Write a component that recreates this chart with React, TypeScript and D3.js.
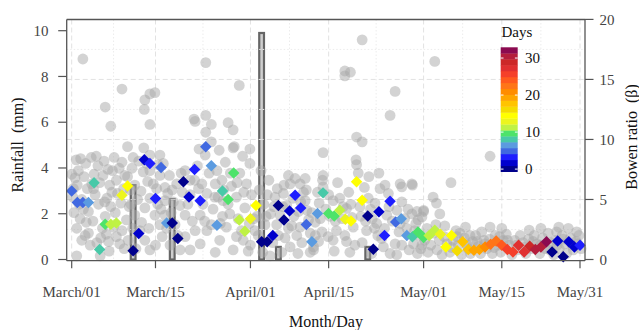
import React, { useEffect } from 'react';
import * as d3 from 'd3';

// ---------- data ----------
const xTickDays = [0, 15, 32, 46, 63, 77, 91];
const xTickLabels = ['March/01', 'March/15', 'April/01', 'April/15', 'May/01', 'May/15', 'May/31'];
const xMinorDays = [7.5, 23.5, 39, 54.5, 70, 84];
const rainTicks = [0, 2, 4, 6, 8, 10];
const bowenTicks = [0, 5, 10, 15, 20];
const bowenMinor = [2.5, 7.5, 12.5, 17.5];
const legendTicks = [0, 10, 20, 30];

const rainDay = [11, 18, 34, 37, 53];
const rainMm = [3.25, 2.64, 9.9, 0.55, 0.55];

const dailyDay = d3.range(0, 92);
const dailyBowen = [
  5.7, 4.75, 4.75, 4.75, 6.4, 0.83, 2.94, 2.94, 3.05, 5.36, 6.13,
  0.72, 2.17, 8.3, 8.0, 5.08, 7.67, 3.05,
  3.05, 1.75, 6.47, 5.2, 7.5, 4.9, 9.4, 7.8, 2.86, 5.7, 5.0, 7.2, 3.3, 2.36, 3.4, 4.5,
  1.47, 1.47, 2.0, 4.5, 3.3, 4.05, 5.36, 4.3, 2.92, 1.47, 3.83, 5.55, 3.83, 3.63, 4.1, 3.36, 3.2, 6.47, 4.94,
  3.63, 0.86, 3.97, 2.0, 4.86, 3.13, 3.4, 2.0, 1.9, 2.3, 1.83, 2.0, 2.44, 2.1, 1.05, 2.0, 0.72, 1.47, 0.83,
  0.78, 0.83, 1.05, 1.28, 1.55, 1.19, 0.83, 0.63, 1.19, 0.63, 1.1, 0.83, 1.05, 1.47,
  0.63, 1.55, 0.22, 1.47, 1.05, 1.19,
];
const dailyDaysSinceRain = [
  5, 5, 5, 6, 8, 8, 10, 11, 12, 13, 14,
  0, 1, 2, 3, 4, 5, 6,
  0, 0, 0, 1, 3, 4, 5, 6, 7, 8, 9, 10, 11, 12, 13, 14,
  0, 0, 1, 0, 0, 1, 3, 4, 5, 6, 7, 8, 9, 10, 11, 13, 14, 15, 15,
  0, 0, 1, 3, 4, 5, 6, 7, 8, 9, 10, 11, 12, 13, 14, 15, 16, 17, 18,
  19, 20, 21, 22, 23, 24, 25, 26, 27, 28, 29, 30, 31, 32,
  0, 1, 0, 1, 2, 3,
];

// half-hourly Bowen ratio observations [day, bowen]
const halfHourlyBowen: [number, number][] = [
  // early March
  [0, 7.1], [0.2, 5.2], [0.9, 2.6], [0.8, 8.3], [1.0, 6.2], [1.6, 8.4], [1.8, 5.0], [2.1, 4.2], [2.2, 6.9], [2.5, 8.0],
  [3.0, 4.0], [3.5, 8.5], [4.0, 7.1], [4.2, 5.4], [3.3, 1.2], [4.5, 1.4], [5.1, 0.3], [0.9, 0.3], [5.5, 2.6], [6.0, 3.6],
  [6.3, 5.1], [6.5, 7.5], [7.0, 4.4], [7.3, 7.4], [7.5, 2.7], [8.0, 1.9], [8.2, 5.5], [8.5, 7.6], [9.0, 2.4], [9.5, 7.0],
  [10.0, 6.9], [10.3, 4.4], [2.0, 16.7], [6.0, 12.7], [7.0, 11.1], [9.0, 14.2], [10.0, 9.4],
  [0.4, 3.9], [1.3, 4.6], [2.8, 5.9], [3.8, 3.2], [5.0, 6.4], [5.8, 8.2], [4.8, 4.6], [6.8, 6.2], [7.8, 3.9], [8.8, 4.7],
  [9.3, 5.9], [3.0, 2.2], [5.2, 1.8], [6.2, 2.1], [1.8, 1.6], [8.6, 1.3], [9.8, 3.3], [2.6, 3.1], [4.4, 8.6], [7.6, 8.5],
  [0.3, 5.9], [3.6, 6.3], [6.7, 0.7], [9.4, 0.9], [1.2, 7.4], [5.6, 7.0],
  [1.5, 3.4], [2.4, 2.0], [3.9, 5.9], [4.7, 7.8], [5.9, 4.8], [7.2, 5.6], [8.0, 6.6], [9.0, 8.1], [0.6, 6.8], [6.6, 1.5],
  // mid March
  [10.5, 5.8], [11.3, 6.2], [12.8, 7.3], [14, 7.4], [15.5, 7.9], [15.8, 7.0], [16.7, 6.0], [16.7, 4.9], [13.1, 4.3], [14, 5.1],
  [14.9, 3.7], [15.8, 2.9], [13.1, 1.6], [14, 0.8], [12.2, 2.4], [11.3, 3.7], [10.1, 1.6], [16.7, 3.7], [18.5, 2.9], [19.4, 4.5],
  [20.3, 3.7], [17.6, 1.2], [19.4, 0.8], [13, 12.5], [13.1, 13.3], [14, 13.8], [14.9, 13.9], [14, 11.25], [14, 8.7], [15.8, 8.7],
  [12.0, 8.2], [11.8, 5.0], [10.8, 7.6], [13.6, 6.5], [12.5, 3.1], [15.2, 5.9], [16.2, 1.9], [17.2, 5.5], [17.8, 3.9], [18.8, 6.3],
  [19.0, 2.0], [18.2, 4.8], [11.5, 0.9], [12.9, 9.3], [16.4, 8.0], [17.5, 7.0], [19.8, 5.6], [15.0, 1.2], [13.8, 2.6], [10.9, 2.6],
  [10.6, 4.6], [12.4, 5.7], [13.4, 8.0], [14.6, 6.3], [16.0, 4.2], [17.0, 2.6], [18.0, 5.8], [19.6, 7.2], [11.0, 8.5], [15.4, 4.6],
  // late March
  [20.3, 7.4], [21.2, 6.6], [24, 16.4], [21.9, 11.7], [22.1, 11.5], [24, 12], [25, 11.25], [24, 10.6], [25, 9.8], [30, 14.5],
  [28, 11.4], [28.9, 10.8], [28.9, 9.3], [29.1, 9.4], [31.9, 9.2], [26.4, 9.1], [23.9, 8.7], [23.3, 6.3], [25.7, 6.3], [24.2, 5.5],
  [27.1, 4.9], [29.5, 5.2], [31.3, 6.3], [30.1, 7.2], [31.9, 8.0], [27.7, 2.7], [26.5, 1.6], [24.2, 2.4], [25.7, 0.6], [28.9, 0.8],
  [30.7, 1.6], [32.8, 2.4], [30.4, 2.4], [28.3, 3.8], [21.2, 5.4], [22.1, 2.4], [21.2, 0.8], [23, 3.7], [20.3, 1.9],
  [22.5, 7.8], [23.5, 4.6], [22.7, 5.9], [25.3, 4.2], [26.0, 7.4], [26.9, 6.6], [27.5, 8.1], [28.6, 6.1], [29.8, 3.4], [31.0, 4.3],
  [32.2, 5.4], [32.6, 3.4], [27.0, 3.6], [25.0, 2.9], [23.0, 1.3], [29.5, 1.9], [31.6, 0.7], [24.6, 7.2], [26.2, 5.2], [30.6, 8.6],
  [21.6, 3.2], [28.0, 4.6], [32.0, 1.2], [22.8, 9.2],
  [20.8, 4.6], [22.0, 6.6], [23.8, 3.2], [25.6, 5.2], [27.2, 5.8], [28.4, 7.2], [29.6, 6.4], [30.8, 5.6], [31.8, 3.0], [26.6, 3.0],
  // early April
  [38.8, 7.0], [40, 6.75], [40.9, 6.3], [39.1, 6.3], [37.9, 5.5], [38.5, 4.5], [37.3, 3.7], [38.8, 2.6], [39.1, 1.05], [36.7, 2.9],
  [40.9, 2.7], [42.1, 4.1], [42.7, 2.2], [43.3, 1.05], [42.7, 0.6], [41.8, 4.9], [44.3, 4.7], [44.9, 6.6], [43.6, 3.1], [44.8, 2.3],
  [33.4, 2.0], [34.6, 2.9], [34.2, 0.6], [35.5, 0.3], [45, 8.9], [41.8, 6.75], [41.5, 5.6], [43.6, 2.0], [41, 4.8], [43.3, 0.8],
  [33.6, 5.8], [34.4, 4.6], [35.6, 3.8], [35.0, 5.4], [36.2, 4.4], [36.0, 1.4], [37.0, 2.0], [39.8, 3.6], [40.3, 2.0], [39.6, 5.1],
  [41.2, 1.4], [42.4, 3.3], [44.2, 1.5], [35.3, 6.6], [36.8, 5.9], [33.9, 7.4], [37.6, 0.6], [40.5, 0.5], [44, 5.6], [38.2, 1.8],
  [33.2, 3.6], [34.8, 3.6], [36.4, 5.2], [37.8, 4.4], [39.4, 2.8], [40.6, 4.0], [42.0, 5.8], [43.0, 3.9], [44.5, 3.4], [38.0, 6.2],
  // late April
  [52, 18.3], [48.9, 15.7], [49.9, 15.6], [48.9, 15.3], [57.9, 14], [57, 12], [51, 10.2], [52, 9.8], [50.9, 8.3], [51, 7.9],
  [51.3, 7.2], [45, 7.0], [45, 6.05], [48, 5.1], [46.8, 4.9], [49.2, 4.25], [55.2, 5.9], [56.1, 6.2], [58.8, 6.3], [60.9, 6.3],
  [56.7, 5.5], [54.3, 4.7], [53.1, 5.1], [58.2, 4.1], [60.9, 3.8], [56.4, 3.7], [54.6, 3.0], [52.8, 2.4], [50.4, 2.7], [48.9, 2.0],
  [47.4, 2.4], [46.8, 1.6], [49.2, 1.5], [50.7, 1.2], [45.9, 1.9], [55.8, 1.05], [57.9, 1.3], [59.1, 1.2], [61.2, 1.3], [55.5, 1.75],
  [57, 0.5], [53.7, 0.5], [62.7, 1.2], [59.1, 6.05], [61, 6.2], [59.1, 4.8], [61.8, 4.0], [60, 2.6], [62, 3.3],
  [46.2, 3.6], [47.6, 6.4], [48.4, 3.4], [50.0, 4.6], [51.8, 3.6], [52.4, 6.0], [53.8, 3.4], [54.8, 2.0], [56.0, 2.6], [57.4, 3.2],
  [58.6, 2.3], [59.6, 3.4], [61.4, 2.4], [62.2, 2.0], [47.0, 0.7], [49.8, 0.6], [52.0, 1.4], [58.2, 0.4], [60.4, 0.8], [61.9, 0.5],
  [53.2, 6.9], [55.0, 7.2], [46.0, 5.4], [49.6, 5.6],
  [45.5, 4.2], [47.2, 3.2], [48.6, 4.4], [50.2, 3.5], [51.6, 4.4], [53.5, 4.2], [54.2, 2.6], [56.8, 4.4], [58.8, 3.0], [60.2, 4.2],
  [61.6, 3.0], [52.6, 3.2],
  // May
  [63, 4.1], [62.7, 3.55], [64.7, 5.2], [65.3, 4.7], [65.9, 3.8], [63, 4.0], [67.9, 6.4], [74.9, 2.7], [81.9, 2.45], [86.8, 2.3],
  [88.9, 2.6], [90.4, 2.3], [73.4, 2.3], [71.3, 2.0], [69.5, 2.2], [74.9, 8.6], [65, 16.5],
  [62.5, 0.9], [63.2, 1.6], [63.8, 0.6], [64.3, 1.2], [64.8, 2.2], [65.4, 0.8], [65.8, 1.6], [66.3, 0.4], [66.7, 1.9], [67.2, 1.3],
  [67.7, 0.6], [68.3, 1.6], [68.8, 2.4], [69.2, 1.2], [69.8, 0.4], [70.3, 1.8], [70.8, 1.2], [71.4, 0.5], [71.8, 1.5], [72.3, 2.0],
  [72.8, 1.1], [73.2, 0.5], [73.8, 1.6], [74.3, 0.9], [74.8, 1.7], [75.3, 0.5], [75.8, 2.0], [76.3, 1.2], [76.8, 0.6], [77.3, 1.6],
  [77.8, 2.1], [78.3, 1.2], [78.8, 0.4], [79.3, 1.6], [79.8, 0.8], [80.3, 2.0], [80.8, 1.4], [81.3, 0.5], [81.8, 1.7], [82.3, 0.9],
  [82.8, 2.0], [83.3, 1.3], [83.8, 0.5], [84.3, 1.8], [84.8, 0.9], [85.3, 2.2], [85.8, 1.4], [86.3, 0.4], [86.6, 1.6], [87.3, 0.9],
  [87.8, 2.0], [88.3, 1.3], [88.6, 0.5], [89.3, 1.8], [89.8, 0.8], [90.3, 1.5], [90.8, 2.0], [91.2, 0.9], [87.2, 2.7], [84.0, 2.6],
  [77.0, 2.6], [70.5, 2.7],
  [63.6, 2.6], [65.2, 2.9], [66.8, 2.8], [68.0, 1.0], [69.0, 1.9], [71.0, 0.9], [72.6, 1.5], [74.0, 1.3], [75.6, 1.0], [76.6, 1.9],
  [78.0, 1.6], [79.6, 1.2], [81.0, 1.0], [82.6, 1.5], [84.0, 1.2], [85.6, 0.8], [86.9, 1.2], [88.0, 1.7], [89.6, 1.2], [90.6, 1.3],
];

const bandColors = [
  '#00008B', '#0000CD', '#1E1EFF', '#4169E1', '#5B9BE0', '#48C9A8', '#4DE36A',
  '#BFF244', '#ECF51E', '#FFFF00', '#F5DC00', '#FFC400', '#FFA500', '#FF8C00',
  '#FF7518', '#FF5A1E', '#F5402A', '#E03030', '#CC2828', '#B41E3C', '#8B0A50',
];
const legendDomain: [number, number] = [-0.7, 32.9];

// ---------- layout ----------
const W = 639;
const H = 330;
const left = 66.7;
const right = 585;
const top = 19.5;
const bottom = 260.7;
const serif = '"Liberation Serif", "Times New Roman", Times, serif';

export default function App() {
  useEffect(() => {
    document.body.style.margin = '0';
  }, []);

  const x = d3.scaleLinear().domain([0, 91]).range([71.7, 580]);
  const yRain = d3.scaleLinear().domain([0, 10]).range([259.5, 30.7]);
  const yBowen = d3.scaleLinear().domain([0, 20]).range([259.5, 19.4]);
  const color = d3.scaleQuantize<string>().domain(legendDomain).range(bandColors);
  const yLeg = d3.scaleLinear().domain(legendDomain).range([171.7, 47.3]);
  const bandStep = (legendDomain[1] - legendDomain[0]) / bandColors.length;

  const dayPx = x(1) - x(0);
  const barW = dayPx * 0.85;
  const diamond = d3.symbol().type(d3.symbolSquare).size(66)() as string;

  return (
    <svg width={W} height={H} style={{ position: 'absolute', left: 0, top: 0, background: '#fff' }}
      fontFamily={serif}>
      <rect x={0} y={0} width={W} height={H} fill="#fff" />
      {/* rain bars */}
      {rainDay.map((d, i) => (
        <rect key={'bar' + i} x={x(d) - barW / 2} y={yRain(rainMm[i])} width={barW}
          height={yRain(0) - yRain(rainMm[i])} fill="#cfcfcf" stroke="#666" strokeWidth={2.2} />
      ))}
      {/* grid */}
      {bowenMinor.map((b) => (
        <line key={'hm' + b} x1={left} x2={right} y1={yBowen(b)} y2={yBowen(b)} stroke="#ececec" strokeWidth={1} strokeDasharray="1.5,2" />
      ))}
      {bowenTicks.filter((b) => b > 0 && b < 20).map((b) => (
        <line key={'hM' + b} x1={left} x2={right} y1={yBowen(b)} y2={yBowen(b)} stroke="#e2e2e2" strokeWidth={1} strokeDasharray="5,3" />
      ))}
      {xMinorDays.map((d) => (
        <line key={'vm' + d} x1={x(d)} x2={x(d)} y1={top} y2={bottom} stroke="#ececec" strokeWidth={1} strokeDasharray="1.5,2" />
      ))}
      {xTickDays.map((d) => (
        <line key={'vM' + d} x1={x(d)} x2={x(d)} y1={top} y2={bottom} stroke="#e2e2e2" strokeWidth={1} strokeDasharray="5,3" />
      ))}
      {/* half-hourly observations */}
      {halfHourlyBowen.map(([d, b], i) => (
        <circle key={'c' + i} cx={x(d)} cy={yBowen(b)} r={5.4} fill="#a8a8a8" fillOpacity={0.5} />
      ))}
      {/* daily means */}
      {dailyDay.map((d, i) => (
        <path key={'dm' + i} d={diamond}
          transform={`translate(${x(d)},${yBowen(dailyBowen[i])}) rotate(45)`}
          fill={color(dailyDaysSinceRain[i])} />
      ))}
      {/* box */}
      <line x1={left} x2={right} y1={top} y2={top} stroke="#555" strokeWidth={1.3} />
      <line x1={left} x2={right} y1={bottom} y2={bottom} stroke="#555" strokeWidth={1.3} />
      <line x1={left} x2={left} y1={top} y2={bottom} stroke="#555" strokeWidth={1.3} />
      <line x1={right} x2={right} y1={top} y2={bottom} stroke="#555" strokeWidth={1.3} />
      {/* left axis */}
      {rainTicks.map((r) => (
        <g key={'lt' + r}>
          <line x1={left - 8.5} x2={left} y1={yRain(r)} y2={yRain(r)} stroke="#555" strokeWidth={1.2} />
          <text x={48.5} y={yRain(r)} dy="0.35em" textAnchor="end" fontSize={15} fill="#444">{r}</text>
        </g>
      ))}
      {/* right axis */}
      {bowenTicks.map((b) => (
        <g key={'rt' + b}>
          <line x1={right} x2={right + 8.5} y1={yBowen(b)} y2={yBowen(b)} stroke="#555" strokeWidth={1.2} />
          <text x={599.5} y={yBowen(b)} dy="0.35em" textAnchor="start" fontSize={15} fill="#444">{b}</text>
        </g>
      ))}
      {/* bottom axis */}
      {xTickDays.map((d, i) => (
        <g key={'bt' + d}>
          <line x1={x(d)} x2={x(d)} y1={bottom} y2={bottom + 7.5} stroke="#555" strokeWidth={1.2} />
          <text x={x(d)} y={296.5} textAnchor="middle" fontSize={15} fill="#444">{xTickLabels[i]}</text>
        </g>
      ))}
      {/* axis titles */}
      <text transform="translate(22.5,145) rotate(-90)" textAnchor="middle" fontSize={16} fill="#111"
        style={{ whiteSpace: 'pre' }}>{'Rainfall  (mm)'}</text>
      <text transform="translate(636.5,137) rotate(-90)" textAnchor="middle" fontSize={16} fill="#111"
        style={{ whiteSpace: 'pre' }}>{'Bowen ratio  (β)'}</text>
      <text x={326} y={327} textAnchor="middle" fontSize={16} fill="#111">Month/Day</text>
      {/* colour legend */}
      <text x={501.5} y={36.5} fontSize={15} fill="#111">Days</text>
      {bandColors.map((c, i) => {
        const v0 = legendDomain[0] + i * bandStep;
        const v1 = v0 + bandStep;
        return (
          <rect key={'band' + i} x={500.7} width={17} y={yLeg(v1)} height={yLeg(v0) - yLeg(v1) + 0.3} fill={c} />
        );
      })}
      {legendTicks.map((t) => (
        <g key={'lg' + t}>
          <line x1={500.7} x2={503.5} y1={yLeg(t)} y2={yLeg(t)} stroke="#fff" strokeWidth={1} />
          <line x1={514.9} x2={517.7} y1={yLeg(t)} y2={yLeg(t)} stroke="#fff" strokeWidth={1} />
          <text x={525} y={yLeg(t)} dy="0.35em" fontSize={15} fill="#111">{t}</text>
        </g>
      ))}
    </svg>
  );
}
